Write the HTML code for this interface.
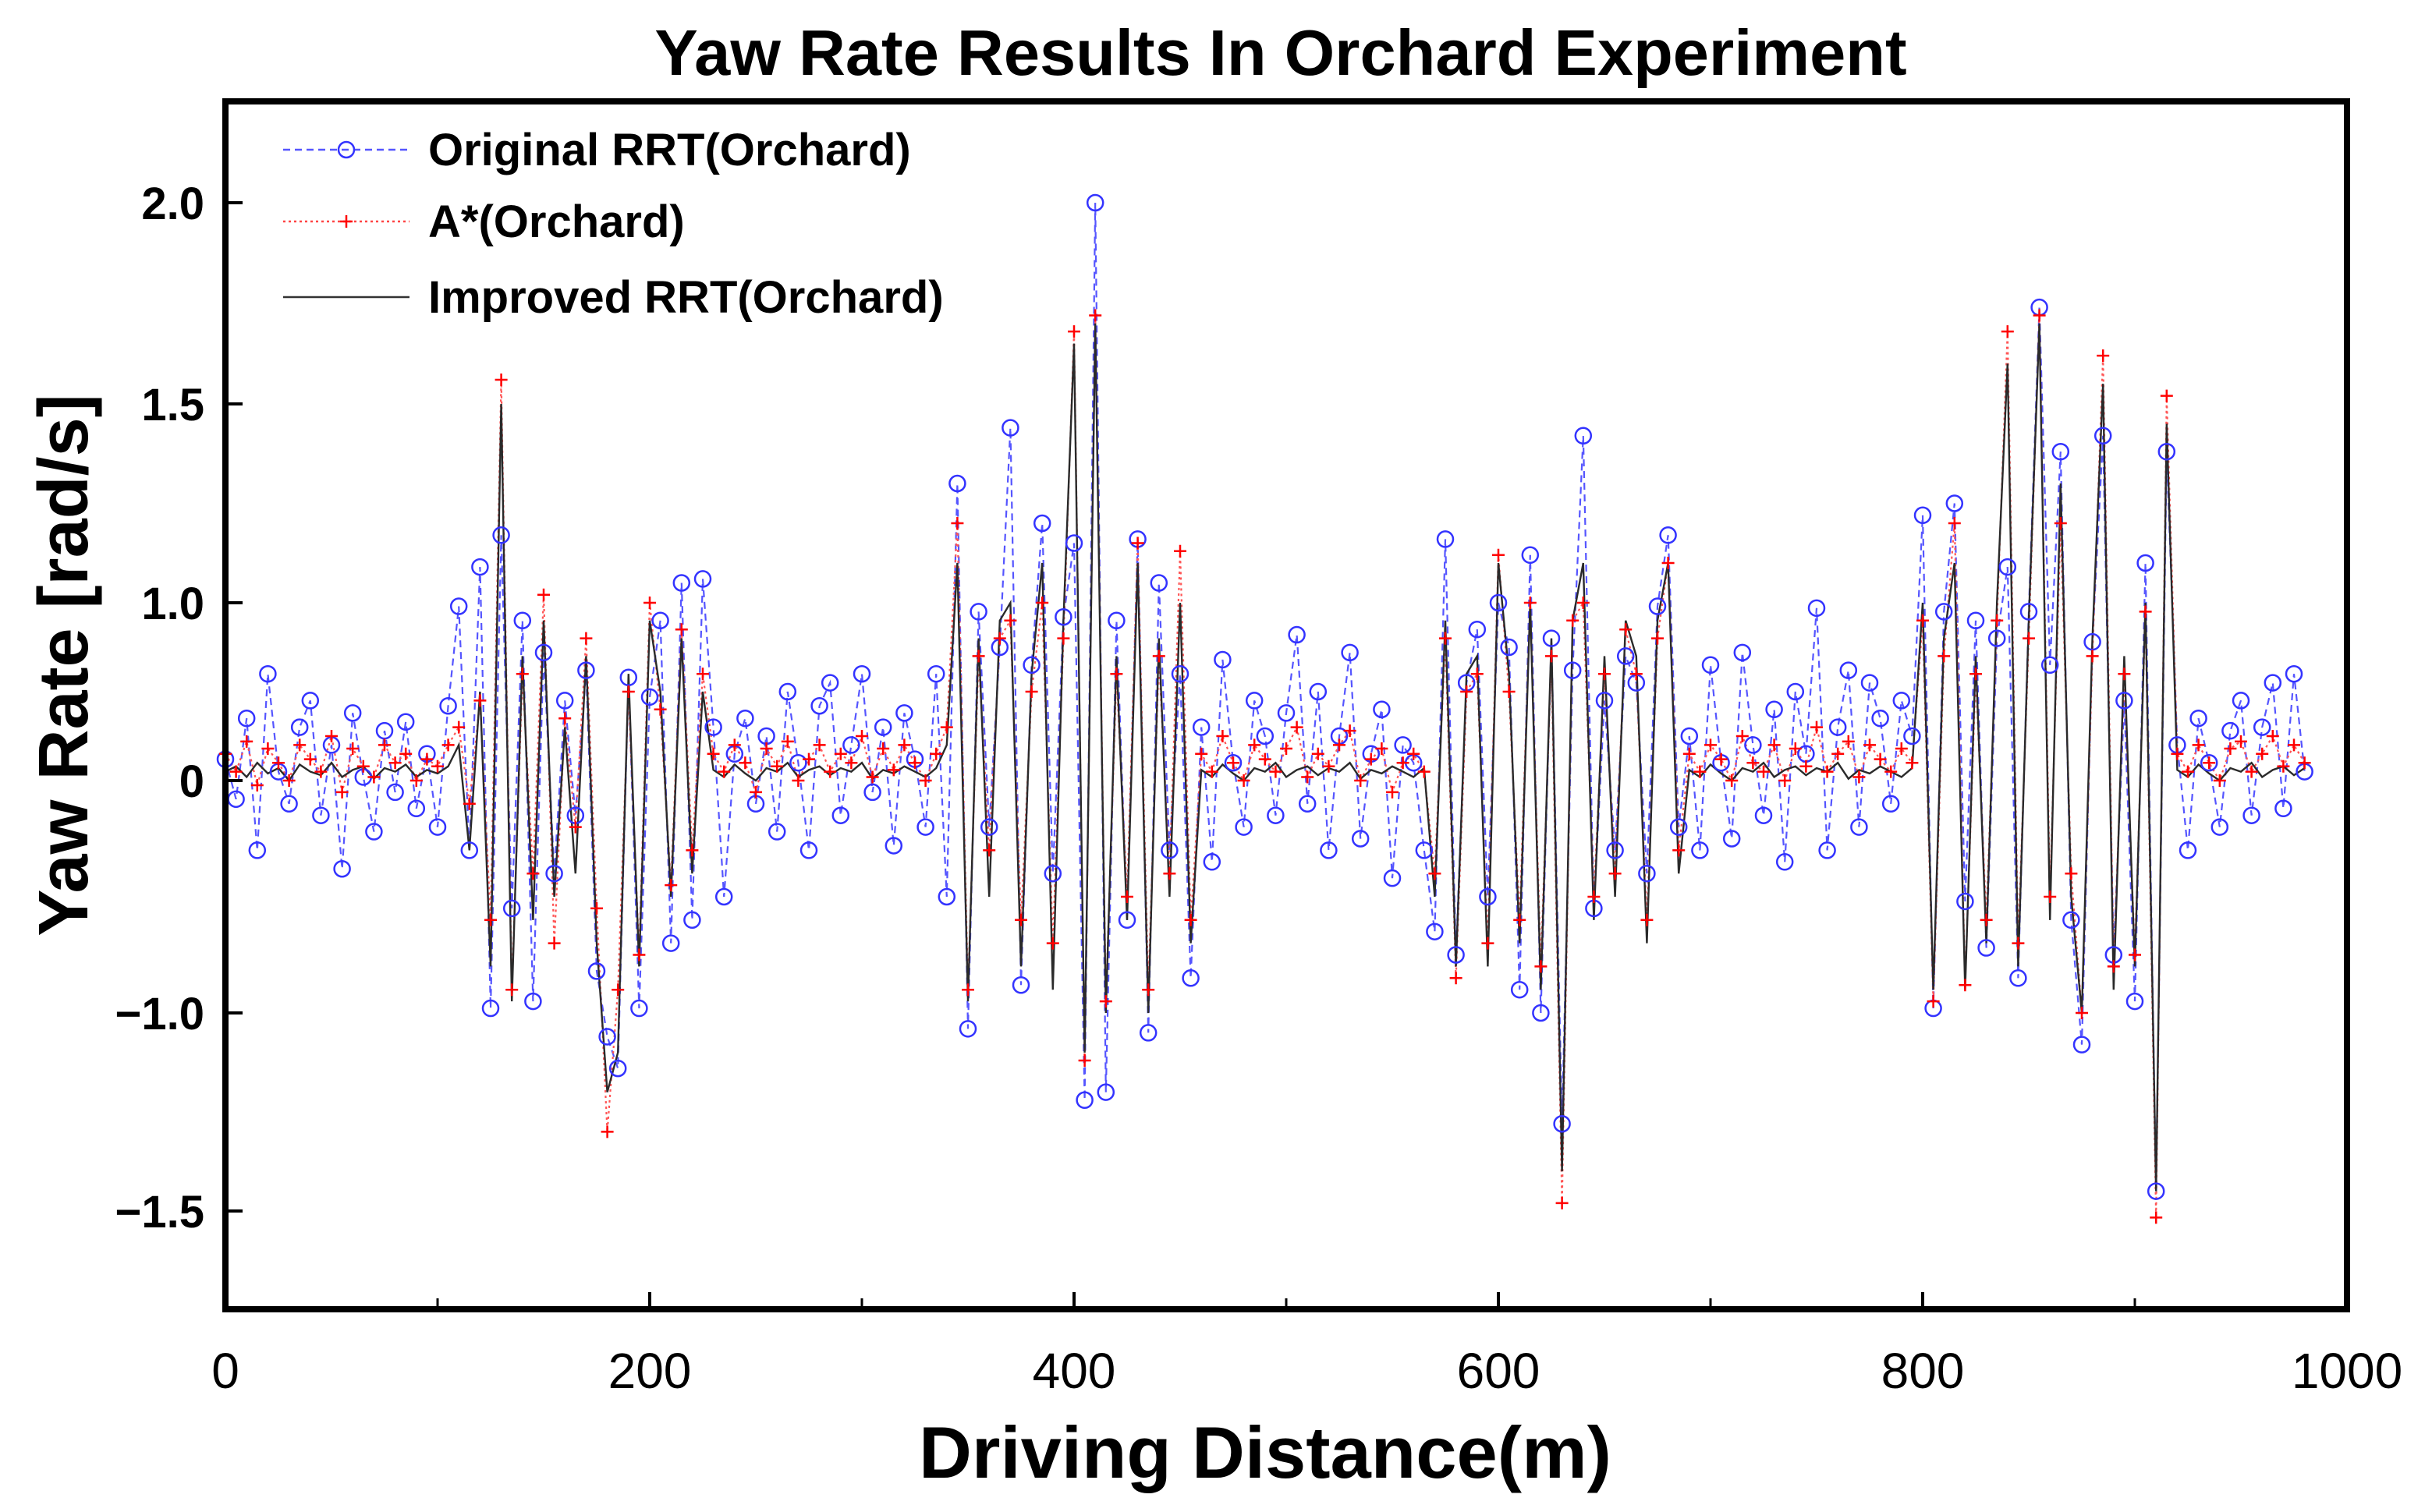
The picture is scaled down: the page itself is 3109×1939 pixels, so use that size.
<!DOCTYPE html>
<html><head><meta charset="utf-8"><style>
html,body{margin:0;padding:0;background:#fff}
svg{display:block}
text{font-family:"Liberation Sans",Arial,sans-serif}
.tick{font-family:"Liberation Sans Narrow","Liberation Sans",sans-serif;font-size:64px;fill:#000}
.ytick{font-family:"Liberation Sans",sans-serif;font-size:58px;font-weight:bold;fill:#000}
</style></head><body>
<svg id="chart" width="3109" height="1939" viewBox="0 0 3109 1939" xmlns="http://www.w3.org/2000/svg">
<rect width="3109" height="1939" fill="#fff"/>
<text x="1642" y="96" text-anchor="middle" font-size="83" font-weight="bold">Yaw Rate Results In Orchard Experiment</text>
<g id="plot"></g>
<text x="1622" y="1895" text-anchor="middle" font-size="94" font-weight="bold">Driving Distance(m)</text>
<text transform="translate(112,853) rotate(-90)" text-anchor="middle" font-size="90" font-weight="bold">Yaw Rate [rad/s]</text>
<g>
  <g>
    <line x1="363" y1="192" x2="525" y2="192" stroke="#5555ff" stroke-width="2.5" stroke-dasharray="9,6"/>
    <circle cx="444" cy="192" r="10" fill="none" stroke="#3333ff" stroke-width="2.5"/>
    <text x="549" y="212" font-size="58" font-weight="bold">Original RRT(Orchard)</text>
  </g>
  <g>
    <line x1="363" y1="284" x2="525" y2="284" stroke="#ff4444" stroke-width="2.5" stroke-dasharray="3,4"/>
    <path d="M436 284h16M444 276v16" stroke="#ff0000" stroke-width="2.5"/>
    <text x="549" y="304" font-size="58" font-weight="bold">A*(Orchard)</text>
  </g>
  <g>
    <line x1="363" y1="381" x2="525" y2="381" stroke="#333" stroke-width="2.5"/>
    <text x="549" y="401" font-size="58" font-weight="bold">Improved RRT(Orchard)</text>
  </g>
</g>
</svg>
<script>
const xStart = 0, xStep = 5;
const xTicks = [0,200,400,600,800,1000];
const xMinorTicks = [100,300,500,700,900];
const yTicks = [-1.5,-1.0,0,1.0,1.5,2.0];
const yTickLabels = ["\u22121.5","\u22121.0","0","1.0","1.5","2.0"];
const originalRRT = [
0.12,-0.08,0.35,-0.3,0.6,0.05,-0.1,0.3,0.45,-0.15,0.2,-0.38,0.38,0.02,-0.22,0.28,-0.05,0.33,-0.12,0.15,-0.2,0.42,
0.98,-0.3,1.09,-0.98,1.17,-0.55,0.9,-0.95,0.72,-0.4,0.45,-0.15,0.62,-0.82,-1.06,-1.14,0.58,-0.98,0.47,0.9,-0.7,1.05,-0.6,1.06,
0.3,-0.5,0.15,0.35,-0.1,0.25,-0.22,0.5,0.1,-0.3,0.42,0.55,-0.15,0.2,0.6,-0.05,0.3,-0.28,0.38,0.12,-0.2,0.6,
-0.5,1.3,-1.04,0.95,-0.2,0.75,1.44,-0.88,0.65,1.2,-0.4,0.92,1.15,-1.22,2.0,-1.2,0.9,-0.6,1.16,-1.05,1.05,-0.3,0.6,-0.85,
0.3,-0.35,0.68,0.1,-0.2,0.45,0.25,-0.15,0.38,0.82,-0.1,0.5,-0.3,0.25,0.72,-0.25,0.15,0.4,-0.42,0.2,0.1,-0.3,
-0.65,1.16,-0.75,0.55,0.85,-0.5,1.0,0.75,-0.9,1.12,-1.0,0.8,-1.28,0.62,1.42,-0.55,0.45,-0.3,0.7,0.55,-0.4,0.98,1.17,-0.2,
0.25,-0.3,0.65,0.1,-0.25,0.72,0.2,-0.15,0.4,-0.35,0.5,0.15,0.97,-0.3,0.3,0.62,-0.2,0.55,0.35,-0.1,0.45,0.25,
1.22,-0.98,0.95,1.25,-0.52,0.9,-0.72,0.8,1.09,-0.85,0.95,1.74,0.65,1.38,-0.6,-1.08,0.78,1.42,-0.75,0.45,-0.95,1.1,-1.45,1.38,
0.2,-0.3,0.35,0.1,-0.2,0.28,0.45,-0.15,0.3,0.55,-0.12,0.6,0.05];
const aStar = [
0.15,0.05,0.22,-0.02,0.18,0.1,0.0,0.2,0.12,0.05,0.25,-0.05,0.18,0.08,0.02,0.2,0.1,0.15,0.0,0.12,0.08,0.2,
0.3,-0.1,0.45,-0.6,1.56,-0.9,0.6,-0.4,1.02,-0.7,0.35,-0.2,0.8,-0.55,-1.3,-0.9,0.5,-0.75,1.0,0.4,-0.45,0.85,-0.3,0.6,
0.15,0.05,0.2,0.1,-0.05,0.18,0.08,0.22,0.0,0.12,0.2,0.05,0.15,0.1,0.25,0.02,0.18,0.06,0.2,0.1,0.0,0.15,
0.3,1.2,-0.9,0.7,-0.3,0.8,0.9,-0.6,0.5,1.0,-0.7,0.8,1.68,-1.12,1.72,-0.95,0.6,-0.5,1.15,-0.9,0.7,-0.4,1.13,-0.6,
0.15,0.05,0.25,0.1,0.0,0.2,0.12,0.05,0.18,0.3,0.02,0.15,0.08,0.2,0.28,0.0,0.12,0.18,-0.05,0.1,0.15,0.05,
-0.4,0.8,-0.85,0.5,0.6,-0.7,1.12,0.5,-0.6,1.0,-0.8,0.7,-1.48,0.9,1.0,-0.5,0.6,-0.4,0.85,0.6,-0.6,0.8,1.1,-0.3,
0.15,0.05,0.2,0.12,0.0,0.25,0.1,0.05,0.2,0.0,0.18,0.08,0.3,0.05,0.15,0.22,0.02,0.2,0.12,0.05,0.18,0.1,
0.9,-0.95,0.7,1.2,-0.88,0.6,-0.6,0.9,1.68,-0.7,0.8,1.72,-0.5,1.2,-0.4,-1.0,0.7,1.62,-0.8,0.6,-0.75,0.95,-1.52,1.52,
0.15,0.05,0.2,0.1,0.0,0.18,0.22,0.05,0.15,0.25,0.08,0.2,0.1];
const improvedRRT = [
0.05,0.08,0.02,0.1,0.04,0.07,0.0,0.09,0.05,0.03,0.1,0.02,0.06,0.08,0.01,0.07,0.05,0.09,0.02,0.06,0.04,0.08,
0.2,-0.3,0.5,-0.8,1.5,-0.95,0.7,-0.6,0.9,-0.5,0.3,-0.4,0.7,-0.7,-1.2,-1.1,0.6,-0.8,0.9,0.5,-0.5,0.8,-0.4,0.5,
0.06,0.02,0.09,0.04,0.0,0.07,0.05,0.1,0.02,0.06,0.08,0.03,0.07,0.05,0.1,0.01,0.06,0.04,0.08,0.05,0.02,0.07,
0.2,1.1,-0.95,0.8,-0.5,0.9,1.0,-0.8,0.6,1.1,-0.9,0.9,1.65,-1.1,1.7,-1.0,0.7,-0.6,1.1,-1.0,0.8,-0.5,1.0,-0.7,
0.06,0.02,0.09,0.04,0.0,0.07,0.05,0.1,0.02,0.06,0.08,0.03,0.07,0.05,0.1,0.01,0.06,0.04,0.08,0.05,0.02,0.07,
-0.5,0.9,-0.8,0.6,0.7,-0.8,1.1,0.6,-0.7,1.0,-0.9,0.8,-1.4,0.9,1.1,-0.6,0.7,-0.5,0.9,0.7,-0.7,0.9,1.1,-0.4,
0.06,0.02,0.09,0.04,0.0,0.07,0.05,0.1,0.02,0.06,0.08,0.03,0.07,0.05,0.1,0.01,0.06,0.04,0.08,0.05,0.02,0.07,
1.0,-0.9,0.8,1.1,-0.9,0.7,-0.7,1.0,1.6,-0.8,0.9,1.7,-0.6,1.3,-0.5,-1.0,0.8,1.55,-0.9,0.7,-0.8,1.0,-1.45,1.45,
0.06,0.02,0.09,0.04,0.0,0.07,0.05,0.1,0.02,0.06,0.08,0.03,0.07];

const NS="http://www.w3.org/2000/svg";
const L=289,R=3009,T=130,B=1679;
const xMin=0,xMax=1000;
const sx=v=>L+(v-xMin)/(xMax-xMin)*(R-L);
// piecewise-linear y axis matching the reference's tick placement
const yKnotV=[-2.0,-1.5,-1.0,0,1.0,1.5,2.0,2.5];
const yKnotP=[1761,1553,1299,1001,773,518,260,2];
function sy(v){
  for(let i=0;i<yKnotV.length-1;i++){
    if(v<=yKnotV[i+1]||i===yKnotV.length-2){
      const t=(v-yKnotV[i])/(yKnotV[i+1]-yKnotV[i]);
      return yKnotP[i]+t*(yKnotP[i+1]-yKnotP[i]);
    }
  }
}
const plot=document.getElementById('plot');
function mk(tag,attrs,parent){const e=document.createElementNS(NS,tag);for(const k in attrs)e.setAttribute(k,attrs[k]);(parent||plot).appendChild(e);return e;}
const xOf=i=>xStart+i*xStep;

function drawLine(arr,stroke,dash,w,name){
  const p=mk('polyline',{points:arr.map((v,i)=>sx(xOf(i))+','+sy(v)).join(' '),fill:'none',stroke:stroke,'stroke-width':w,'stroke-dasharray':dash||'none'});
  
  
}
drawLine(originalRRT,'#5555ff','9,6',2.2,'original-rrt-line');
drawLine(aStar,'#ff5555','3,4',2.2,'a-star-line');
drawLine(improvedRRT,'#2a2a2a','',2.4,'improved-rrt-line');

const gB=mk('g',{});


originalRRT.forEach((v,i)=>{
  const c=mk('circle',{cx:sx(xOf(i)),cy:sy(v),r:10,fill:'none',stroke:'#3333ff','stroke-width':2.5},gB);
  
  
});
const gR=mk('g',{});


aStar.forEach((v,i)=>{
  const x=sx(xOf(i)),y=sy(v);
  const p=mk('path',{d:`M${x-8} ${y}h16M${x} ${y-8}v16`,stroke:'#ff0000','stroke-width':2.5},gR);
  
  
});

const frame=mk('rect',{x:L,y:T,width:R-L,height:B-T,fill:'none',stroke:'#000','stroke-width':8});



xTicks.forEach(t=>{
  const ln=mk('line',{x1:sx(t),x2:sx(t),y1:B,y2:B-22,stroke:'#000','stroke-width':4});
  
  
  const tx=mk('text',{x:sx(t),y:1780,'text-anchor':'middle',class:'tick'});
  tx.textContent=String(t);
  
  
});
xMinorTicks.forEach(t=>{
  const ln=mk('line',{x1:sx(t),x2:sx(t),y1:B,y2:B-14,stroke:'#000','stroke-width':3});
  
  
});
yTicks.forEach((t,i)=>{
  const ln=mk('line',{x1:L,x2:L+22,y1:sy(t),y2:sy(t),stroke:'#000','stroke-width':4});
  
  
  const tx=mk('text',{x:262,y:sy(t)+21,'text-anchor':'end',class:'ytick'});
  tx.textContent=yTickLabels[i];
  
  
});
</script>
</body></html>
